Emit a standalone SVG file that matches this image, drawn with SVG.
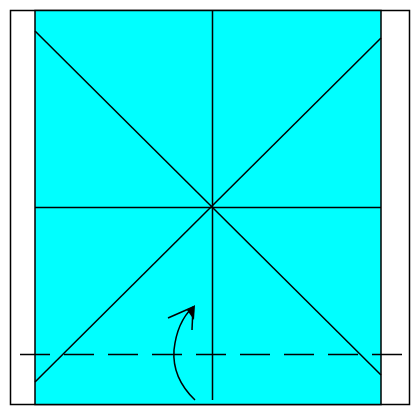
<svg xmlns="http://www.w3.org/2000/svg" width="412" height="408" viewBox="0 0 412 408">
<style>
.ln{stroke:#000;stroke-width:1.5;fill:none}
.bx{stroke:#000;stroke-width:1.5}
</style>
<rect width="412" height="408" fill="#fff"/>
<g id="outer">
<rect x="10.5" y="10.5" width="399" height="394" fill="#fff" class="bx"/>
</g>
<g id="panel">
<rect x="35" y="10.5" width="346" height="394" fill="#00ffff" class="bx"/>
</g>
<g id="connectors">
<line class="ln" x1="35" y1="31" x2="381" y2="375"/>
<line class="ln" x1="381" y1="38" x2="35" y2="382"/>
<line class="ln" x1="212.5" y1="10.5" x2="212.5" y2="400"/>
<line class="ln" x1="35" y1="207.5" x2="381" y2="207.5"/>
<line class="ln" x1="20" y1="354.5" x2="404" y2="354.5" stroke-dasharray="30 14"/>
<path class="ln" d="M195,400 Q172,378 174,350 Q177,322 193,307"/>
<line class="ln" x1="193" y1="307" x2="168" y2="318"/>
<line class="ln" x1="193" y1="307" x2="192" y2="330"/>
<polygon points="187,310 195,305 194,320" fill="#000"/>
</g>
</svg>
